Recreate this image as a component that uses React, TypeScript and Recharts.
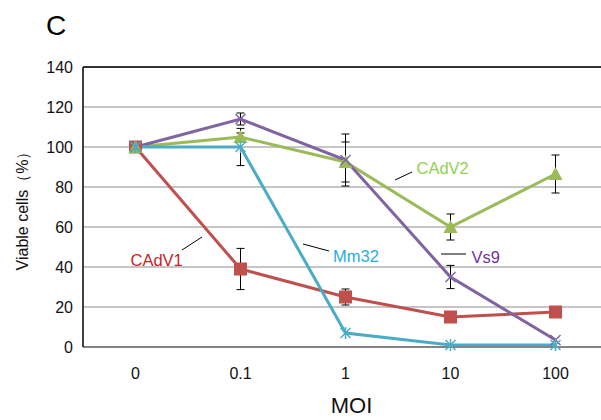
import {
  LineChart,
  Line,
  XAxis,
  YAxis,
  CartesianGrid,
  ErrorBar,
  ReferenceLine,
} from "recharts";

const FONT = "'Liberation Sans', Arial, sans-serif";

const moiLabels = ["0", "0.1", "1", "10", "100"];
const yTicks = [0, 20, 40, 60, 80, 100, 120, 140];

const cadv1 = [100, 39, 25, 15, 17.5];
const cadv1Err = [0, 10.3, 4, 0, 0];
const cadv2 = [100, 105, 92.5, 60, 86.5];
const cadv2Err = [0, 2, 10, 6.5, 9.5];
const vs9 = [100, 114, 93.5, 35, 3.5];
const vs9Err = [0, 3, 13, 5.8, 0];
const mm32 = [100, 100, 7, 1, 1];
const mm32Err = [0, 9.3, 0, 0, 0];

const data = moiLabels.map((m, i) => ({
  idx: i,
  moi: m,
  cadv1: cadv1[i],
  cadv1Err: cadv1Err[i],
  cadv2: cadv2[i],
  cadv2Err: cadv2Err[i],
  vs9: vs9[i],
  vs9Err: vs9Err[i],
  mm32: mm32[i],
  mm32Err: mm32Err[i],
}));

const RED = "#c0504d";
const GREEN = "#9bbb59";
const PURPLE = "#8064a2";
const BLUE = "#4bacc6";

const squareDot = (p: any) => (
  <rect key={`sq-${p.index}`} x={p.cx - 6.5} y={p.cy - 6.5} width={13} height={13} fill={RED} />
);

const triangleDot = (p: any) => (
  <polygon
    key={`tr-${p.index}`}
    points={`${p.cx},${p.cy - 7} ${p.cx - 7},${p.cy + 6} ${p.cx + 7},${p.cy + 6}`}
    fill={GREEN}
  />
);

const crossDot = (p: any) => (
  <g key={`x-${p.index}`} stroke={PURPLE} strokeWidth={1.5}>
    <line x1={p.cx - 5} y1={p.cy - 5} x2={p.cx + 5} y2={p.cy + 5} />
    <line x1={p.cx - 5} y1={p.cy + 5} x2={p.cx + 5} y2={p.cy - 5} />
  </g>
);

const starDot = (p: any) => (
  <g key={`st-${p.index}`} stroke={BLUE} strokeWidth={1.5}>
    <line x1={p.cx - 5} y1={p.cy - 5} x2={p.cx + 5} y2={p.cy + 5} />
    <line x1={p.cx - 5} y1={p.cy + 5} x2={p.cx + 5} y2={p.cy - 5} />
    <line x1={p.cx} y1={p.cy - 6} x2={p.cx} y2={p.cy + 6} />
  </g>
);

// series name callouts with their little leader lines
function Callouts() {
  const txt = { fontFamily: FONT, fontSize: 16.5 };
  return (
    <svg
      width={601}
      height={420}
      style={{ position: "absolute", left: 0, top: 0, pointerEvents: "none" }}
    >
      <g stroke="#000" strokeWidth={1}>
        <line x1={182} y1={250} x2={202} y2={237} />
        <line x1={303} y1={244} x2={329} y2={251} />
        <line x1={441} y1={254} x2={466} y2={254} />
        <line x1={395} y1={180} x2={412} y2={172} />
      </g>
      <text x={130.5} y={266} fill="#c8231f" {...txt}>CAdV1</text>
      <text x={333} y={262} fill="#1fb0e0" {...txt}>Mm32</text>
      <text x={471.5} y={263} fill="#7030a0" {...txt}>Vs9</text>
      <text x={416.5} y={174} fill="#92d050" {...txt}>CAdV2</text>
    </svg>
  );
}

export default function App() {
  return (
    <div
      style={{
        position: "fixed",
        left: 0,
        top: 0,
        width: 601,
        height: 420,
        overflow: "hidden",
        background: "#fff",
        fontFamily: FONT,
      }}
    >
      <div style={{ position: "absolute", left: 46, top: 10, fontSize: 28, color: "#000" }}>C</div>
      <LineChart
        width={620}
        height={420}
        data={data}
        margin={{ top: 67, right: 12, bottom: 0, left: 0 }}
      >
        <CartesianGrid vertical={false} stroke="#8c8c8c" strokeWidth={1} />
        <XAxis
          dataKey="idx"
          type="number"
          domain={[-0.5, 4.5]}
          ticks={[0, 1, 2, 3, 4]}
          tickFormatter={(v: number) => moiLabels[v]}
          height={73}
          axisLine={{ stroke: "#848484", strokeWidth: 2 }}
          tickLine={false}
          tickSize={6}
          tickMargin={15}
          tick={{ fontSize: 16, fill: "#111", fontFamily: FONT }}
          label={{
            value: "MOI",
            position: "insideBottom",
            offset: 7,
            dx: 6,
            fontSize: 22,
            fill: "#111",
            fontFamily: FONT,
          }}
        />
        <YAxis
          width={83}
          domain={[0, 140]}
          ticks={yTicks}
          axisLine={{ stroke: "#000", strokeWidth: 1.5 }}
          tickLine={false}
          tickSize={4}
          tickMargin={6}
          tick={{ fontSize: 16, fill: "#111", fontFamily: FONT }}
          label={{
            value: "Viable cells（%）",
            angle: -90,
            position: "insideLeft",
            offset: 22,
            fontSize: 16,
            fill: "#111",
            fontFamily: FONT,
            style: { textAnchor: "middle" },
          }}
        />
        <ReferenceLine y={140} stroke="#000" strokeWidth={1.5} />
        <Line
          dataKey="cadv1"
          stroke={RED}
          strokeWidth={3}
          dot={squareDot}
          activeDot={false}
          isAnimationActive={false}
        >
          <ErrorBar dataKey="cadv1Err" width={4} stroke="#000" strokeWidth={1} />
        </Line>
        <Line
          dataKey="cadv2"
          stroke={GREEN}
          strokeWidth={3}
          dot={triangleDot}
          activeDot={false}
          isAnimationActive={false}
        >
          <ErrorBar dataKey="cadv2Err" width={4} stroke="#000" strokeWidth={1} />
        </Line>
        <Line
          dataKey="vs9"
          stroke={PURPLE}
          strokeWidth={3}
          dot={crossDot}
          activeDot={false}
          isAnimationActive={false}
        >
          <ErrorBar dataKey="vs9Err" width={4} stroke="#000" strokeWidth={1} />
        </Line>
        <Line
          dataKey="mm32"
          stroke={BLUE}
          strokeWidth={3}
          dot={starDot}
          activeDot={false}
          isAnimationActive={false}
        >
          <ErrorBar dataKey="mm32Err" width={4} stroke="#000" strokeWidth={1} />
        </Line>
      </LineChart>
      <Callouts />
    </div>
  );
}
